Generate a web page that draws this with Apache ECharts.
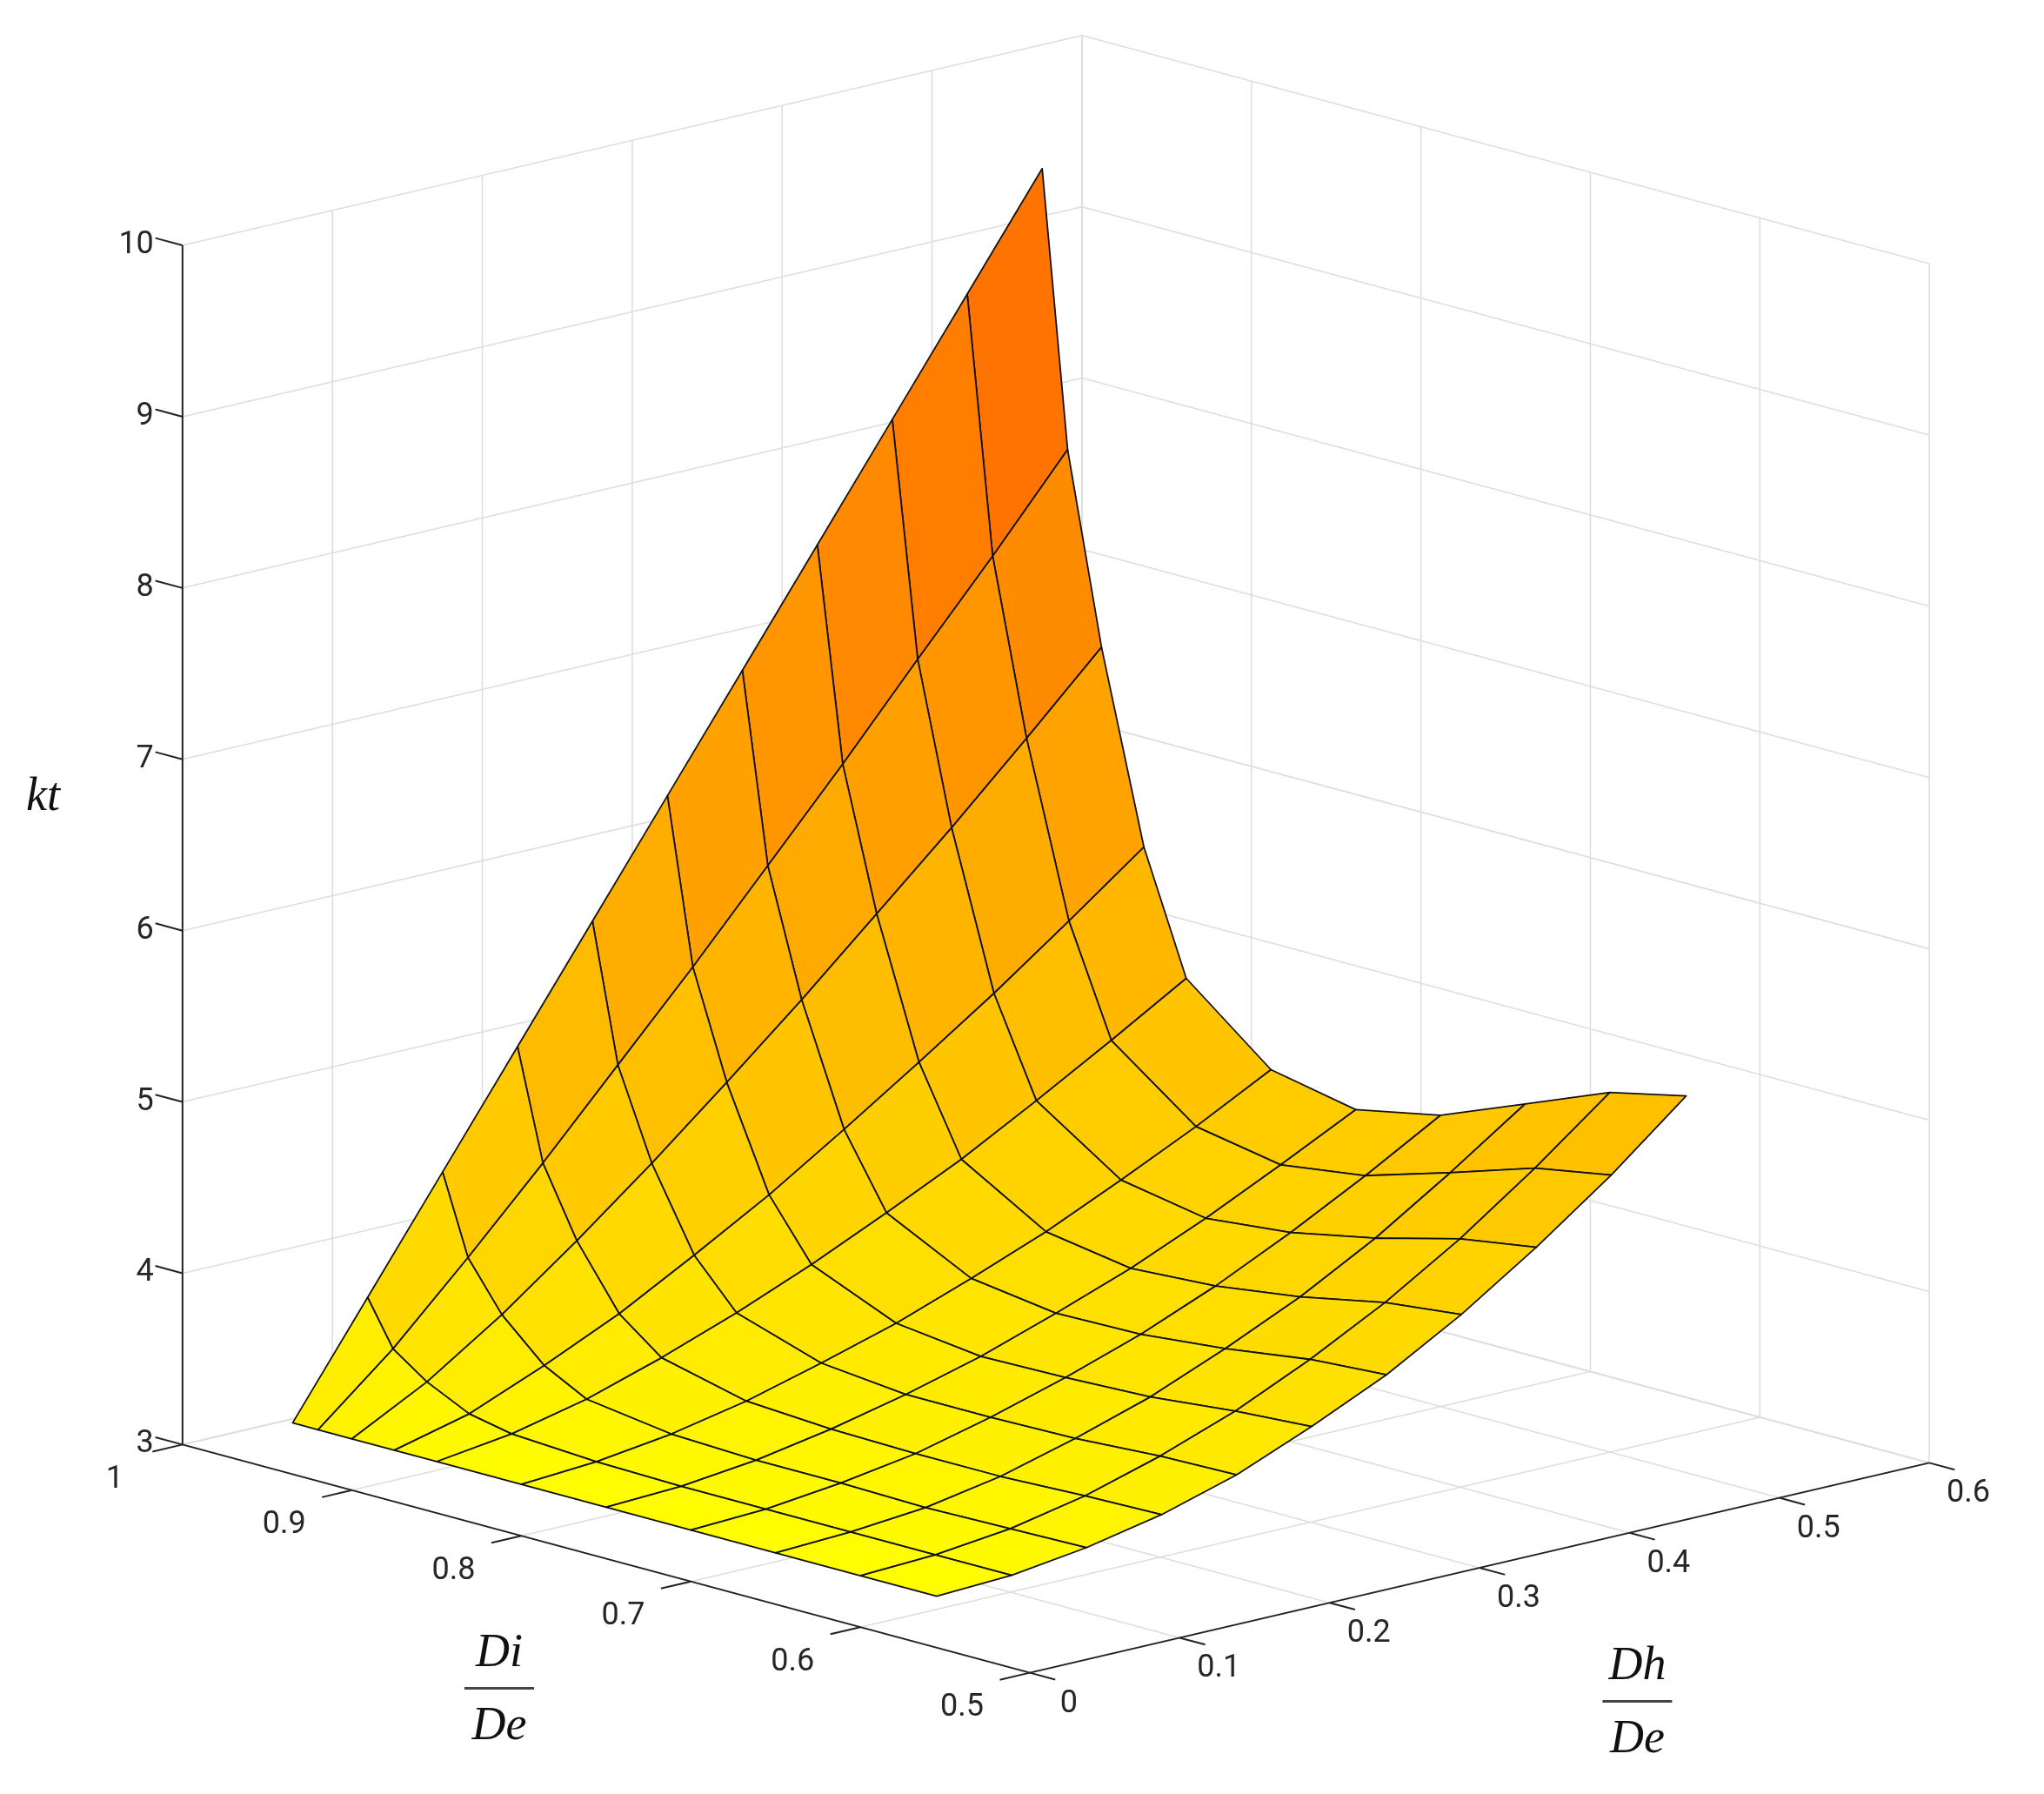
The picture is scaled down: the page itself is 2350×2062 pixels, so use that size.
<!DOCTYPE html>
<html><head><meta charset="utf-8">
<script src="https://cdn.jsdelivr.net/npm/echarts@6/dist/echarts.min.js"></script>
<style>html,body{margin:0;padding:0;background:#fff}#c{width:2350px;height:2062px}</style>
</head><body><div id="c"></div>
<script>
// Di/De grid values (rows) and Dh/De grid values (columns)
const DI = [0.555, 0.6, 0.65, 0.7, 0.75, 0.8, 0.85, 0.875, 0.9, 0.92, 0.935];
const DH = [0, 0.05, 0.1, 0.15, 0.2, 0.25, 0.3, 0.35, 0.4, 0.45, 0.5];
// kt values, one row per DI entry
const KT = [
  [3.30,3.32,3.38,3.47,3.60,3.78,3.98,4.23,4.52,4.84,5.20],
  [3.30,3.32,3.37,3.46,3.59,3.75,3.95,4.18,4.45,4.76,5.10],
  [3.30,3.32,3.36,3.44,3.56,3.70,3.88,4.08,4.32,4.60,4.90],
  [3.30,3.32,3.37,3.44,3.55,3.68,3.83,4.01,4.22,4.45,4.70],
  [3.30,3.32,3.37,3.45,3.55,3.67,3.82,3.98,4.17,4.38,4.60],
  [3.30,3.33,3.39,3.48,3.60,3.73,3.89,4.06,4.26,4.47,4.70],
  [3.30,3.36,3.46,3.60,3.76,3.94,4.14,4.35,4.59,4.84,5.10],
  [3.30,3.41,3.59,3.79,4.03,4.28,4.56,4.85,5.15,5.47,5.80],
  [3.30,3.53,3.82,4.15,4.50,4.87,5.25,5.65,6.05,6.47,6.90],
  [3.30,3.67,4.10,4.55,5.02,5.49,5.98,6.47,6.98,7.48,8.00],
  [3.30,3.93,4.56,5.19,5.82,6.45,7.08,7.71,8.34,8.97,9.60]
];
const Z_TICKS = [3,4,5,6,7,8,9,10];
const DI_TICKS = [1,0.9,0.8,0.7,0.6,0.5];
const DH_TICKS = [0,0.1,0.2,0.3,0.4,0.5,0.6];
const Z_LABEL = 'kt', DI_NUM='Di', DI_DEN='De', DH_NUM='Dh', DH_DEN='De';

function proj(di, dh, z){
  const a=(1-di)/0.5, b=dh/0.6;
  return [140+650*a+690*b, 1108+175*a-161*b-(z-3)*131.4];
}
const W=1568,H=1376;

const quads=[];
for(let i=0;i<DI.length-1;i++)for(let j=0;j<DH.length-1;j++){
  const a=(1-(DI[i]+DI[i+1])/2)/0.5, b=((DH[j]+DH[j+1])/2)/0.6;
  quads.push({value:[i,j],d:b-a});
}
quads.sort((p,q)=>q.d-p.d);
let zmin=Infinity,zmax=-Infinity;KT.forEach(r=>r.forEach(v=>{zmin=Math.min(zmin,v);zmax=Math.max(zmax,v);}));
function col(z){const f=Math.max(0,(z-zmin)/(zmax-zmin));const g=Math.round(255-160*Math.pow(f,0.7));return 'rgb(255,'+g+',0)';}

const segs=[];
const G='#dedede';
Z_TICKS.forEach(z=>{segs.push([1,0,z,1,0.6,z,G]);segs.push([1,0.6,z,0.5,0.6,z,G]);});
DH_TICKS.forEach(h=>{segs.push([1,h,3,1,h,10,G]);segs.push([1,h,3,0.5,h,3,G]);});
DI_TICKS.forEach(d=>{segs.push([d,0.6,3,d,0.6,10,G]);segs.push([d,0,3,d,0.6,3,G]);});
segs.push([1,0,3,1,0,10,'#222']);
segs.push([1,0,3,0.5,0,3,'#222']);
segs.push([0.5,0,3,0.5,0.6,3,'#222']);
Z_TICKS.forEach(z=>segs.push([1,0,z,1.016,0.0,z,'#222']));
DI_TICKS.forEach(d=>segs.push([d,0,3,d,-0.02,3,'#222']));
DH_TICKS.forEach(h=>segs.push([0.5,h,3,0.485,h,3,'#222']));

const texts=[];
Z_TICKS.forEach(z=>{const p=proj(1,0,z);texts.push([p[0]-22,p[1],String(z),'right']);});
DI_TICKS.forEach(d=>{const p=proj(d,0,3);texts.push([p[0]-52,p[1]+27,String(d),'center']);});
DH_TICKS.forEach(h=>{const p=proj(0.5,h,3);texts.push([p[0]+30,p[1]+24,String(h),'center']);});

const chart=echarts.init(document.getElementById('c'));
const lbl='Roboto, "Liberation Sans", sans-serif';
const serif='"Liberation Serif","DejaVu Serif",serif';
chart.setOption({
  animation:false,
  grid:{left:0,top:0,right:0,bottom:0},
  xAxis:{type:'value',min:0,max:W,show:false},
  yAxis:{type:'value',min:0,max:H,inverse:true,show:false},
  series:[
    {type:'custom',data:segs.map((s,k)=>({value:[k]})),z:1,
     renderItem:(p,api)=>{const s=segs[p.dataIndex];const a=api.coord(proj(s[0],s[1],s[2])),b=api.coord(proj(s[3],s[4],s[5]));
       return {type:'line',shape:{x1:a[0],y1:a[1],x2:b[0],y2:b[1]},style:{stroke:s[6],lineWidth:s[6]===G?1.6:2}};}},
    {type:'custom',data:quads.map(q=>({value:q.value})),z:2,
     renderItem:(p,api)=>{const i=api.value(0),j=api.value(1);
       const c=[[i,j],[i+1,j],[i+1,j+1],[i,j+1]];
       const pts=c.map(([a,b])=>api.coord(proj(DI[a],DH[b],KT[a][b])));
       const zav=(KT[i][j]+KT[i+1][j]+KT[i+1][j+1]+KT[i][j+1])/4;
       return {type:'polygon',shape:{points:pts},style:{fill:col(zav),stroke:'#111',lineWidth:1.8,lineJoin:'round'}};}},
    {type:'custom',data:texts.map((t,k)=>({value:[k]})),z:3,
     renderItem:(p,api)=>{const t=texts[p.dataIndex];const a=api.coord([t[0],t[1]]);
       return {type:'text',x:a[0],y:a[1],style:{text:t[2],font:'36px '+lbl,fill:'#262626',align:t[3],verticalAlign:'middle'}};}},
    {type:'custom',data:[[0],[1],[2]],z:3,
     renderItem:(p,api)=>{
       if(p.dataIndex===0){const a=api.coord([33,612]);
         return {type:'text',x:a[0],y:a[1],style:{text:Z_LABEL,font:'italic 54px '+serif,fill:'#111',align:'center',verticalAlign:'middle'}};}
       const c=p.dataIndex===1?[383,1295,DI_NUM,DI_DEN]:[1256,1305,DH_NUM,DH_DEN];
       const a=api.coord([c[0],c[1]]);
       return {type:'group',children:[
         {type:'text',x:a[0],y:a[1]-40,style:{text:c[2],font:'italic 54px '+serif,fill:'#111',align:'center',verticalAlign:'middle'}},
         {type:'line',shape:{x1:a[0]-40,y1:a[1],x2:a[0]+40,y2:a[1]},style:{stroke:'#444',lineWidth:3}},
         {type:'text',x:a[0],y:a[1]+44,style:{text:c[3],font:'italic 54px '+serif,fill:'#111',align:'center',verticalAlign:'middle'}}
       ]};}}
  ]
});
</script></body></html>
